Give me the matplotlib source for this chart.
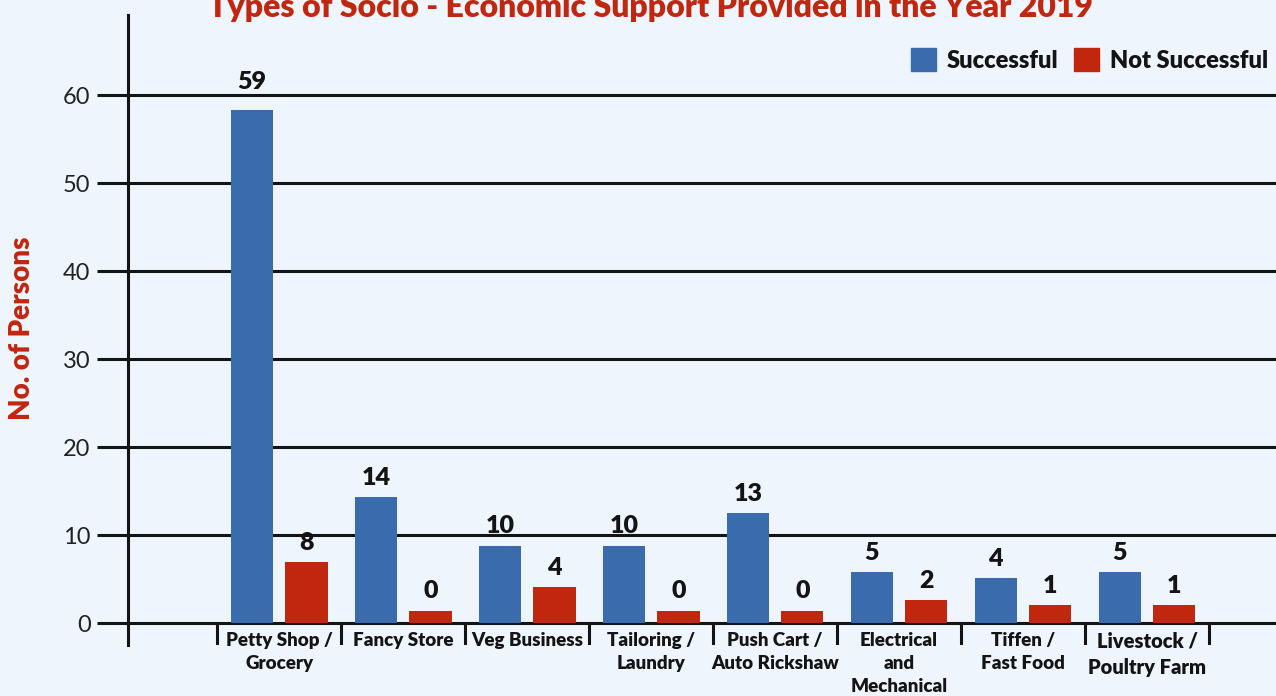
import numpy as np
import matplotlib
matplotlib.use("Agg")
import matplotlib.pyplot as plt
from matplotlib.patches import Patch

plt.rcParams['font.family'] = ['Lato', 'DejaVu Sans']

# Data
categories = ["Petty Shop /\nGrocery", "Fancy Store", "Veg Business", "Tailoring /\nLaundry",
              "Push Cart /\nAuto Rickshaw", "Electrical\nand\nMechanical", "Tiffen /\nFast Food",
              "Livestock /\nPoultry Farm"]
successful = [59, 14, 10, 10, 13, 5, 4, 5]          # printed values
not_successful = [8, 0, 4, 0, 0, 2, 1, 1]
# drawn bar heights (as they appear on the chart's scale)
successful_h = [58.3, 14.3, 8.8, 8.8, 12.5, 5.8, 5.1, 5.8]
not_successful_h = [6.9, 1.4, 4.1, 1.4, 1.4, 2.6, 2.0, 2.0]

BG = "#EEF5FC"
BLUE = "#3A6CAD"
RED = "#C1260F"
INK = "#141414"

fig = plt.figure(figsize=(12.76, 6.96), dpi=100, facecolor=BG)
ax = fig.add_axes([128 / 1276, 1 - 645 / 696, 1 - 128 / 1276, 630 / 696])
ax.set_facecolor(BG)

x = np.arange(len(categories))
off, w = 0.22, 0.34
b1 = ax.bar(x - off, successful_h, w, color=BLUE, zorder=2)
b2 = ax.bar(x + off, not_successful_h, w, color=RED, zorder=2)

for bars, vals in ((b1, successful), (b2, not_successful)):
    for r, v in zip(bars, vals):
        dy = 12 if v >= 50 else 6
        ax.annotate(str(v), (r.get_x() + r.get_width() / 2, r.get_height()),
                    xytext=(0, dy), textcoords="offset points", ha="center", va="bottom",
                    fontsize=18, fontweight="heavy", color=INK)

ax.set_xlim(-1.22, 8.04)
ax.set_ylim(-2.5, 69.1)
ax.set_yticks(range(0, 61, 10))
ax.set_xticks([])
ax.tick_params(axis="y", length=22, width=2.2, color=INK, labelsize=17, labelcolor="#222222", pad=5)
ax.grid(axis="y", color=INK, linewidth=2.2, zorder=1)
ax.set_axisbelow(True)
for s in ("top", "right", "bottom"):
    ax.spines[s].set_visible(False)
ax.spines["left"].set_linewidth(2.2)
ax.spines["left"].set_color(INK)

# category separators below the baseline
ax.vlines(np.arange(len(categories) + 1) - 0.5, -2.5, 0, color=INK, linewidth=2.2)
for xi, lab in zip(x, categories):
    fs = 14.5 if lab.startswith("Livestock") else 13.5
    ax.text(xi, -1.0, lab, ha="center", va="top", fontsize=fs, fontweight="heavy",
            color=INK, linespacing=1.45, clip_on=False)

fig.text(22 / 1276, 1 - 328 / 696, "No. of Persons", rotation=90, ha="center", va="center",
         fontsize=20, fontweight="heavy", color=RED)
fig.text(651 / 1276, 1 - 17 / 696, "Types of Socio - Economic Support Provided in the Year 2019",
         ha="center", va="baseline", fontsize=23, fontweight="heavy", color=RED)

handles = [Patch(color=BLUE, label="Successful"), Patch(color=RED, label="Not Successful")]
leg = fig.legend(handles=handles, loc="center right", bbox_to_anchor=(1268 / 1276, 1 - 60 / 696),
                 ncol=2, frameon=False, fontsize=17, handlelength=1.05, handleheight=1.1,
                 handletextpad=0.45, columnspacing=0.7, borderpad=0, borderaxespad=0)
for t in leg.get_texts():
    t.set_fontweight("heavy")
    t.set_color(INK)

fig.savefig("out.png", dpi=100, facecolor=BG)
